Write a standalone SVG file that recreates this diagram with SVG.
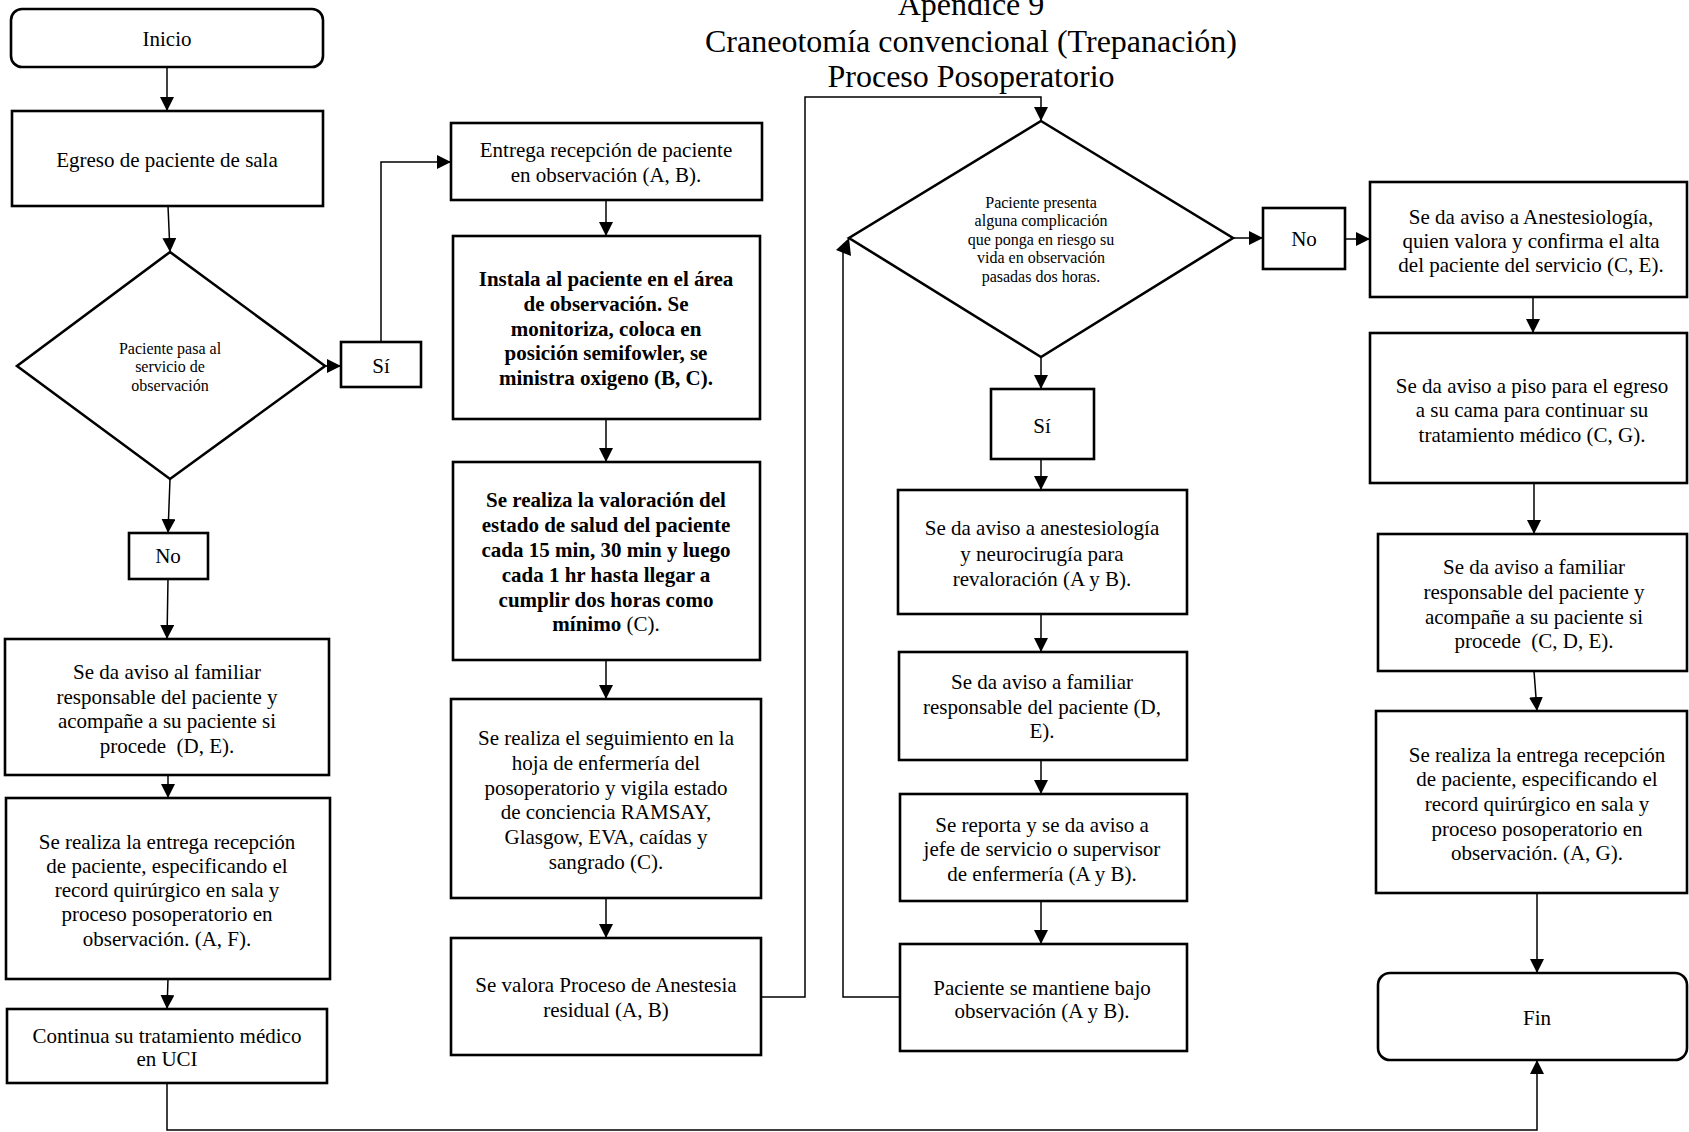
<svg xmlns="http://www.w3.org/2000/svg" width="1689" height="1132" viewBox="0 0 1689 1132">
<style>
.box{fill:#fff;stroke:#000;stroke-width:2.6}
.dec{fill:#fff;stroke:#000;stroke-width:2.6}
.t{font-family:"Liberation Serif","Times New Roman",serif;font-size:21px;fill:#000;text-anchor:middle}
.b{font-weight:bold}
.s{font-size:16px}
.title{font-family:"Liberation Serif","Times New Roman",serif;font-size:32px;fill:#000;text-anchor:middle}
.c{fill:none;stroke:#000;stroke-width:1.5}
</style>
<defs>
<marker id="ah" markerUnits="userSpaceOnUse" markerWidth="15" markerHeight="14" refX="14" refY="7" orient="auto">
<path d="M0,0 L14,7 L0,14 z" fill="#000"/>
</marker>
</defs>
<rect width="1689" height="1132" fill="#fff"/>
<g id="title">
<text class="title" x="971" y="15">Apéndice 9</text>
<text class="title" x="971" y="52">Craneotomía convencional (Trepanación)</text>
<text class="title" x="971" y="87">Proceso Posoperatorio</text>
</g>
<g id="connectors">
<path class="c" d="M167,67 V111" marker-end="url(#ah)"/>
<path class="c" d="M168,206 L170,252" marker-end="url(#ah)"/>
<path class="c" d="M170,479 L168,533" marker-end="url(#ah)"/>
<path class="c" d="M168,579 L167,639" marker-end="url(#ah)"/>
<path class="c" d="M168,775 V798" marker-end="url(#ah)"/>
<path class="c" d="M168,979 L167,1009" marker-end="url(#ah)"/>
<path class="c" d="M325,366 H341" marker-end="url(#ah)"/>
<path class="c" d="M381,342 V162 H451" marker-end="url(#ah)"/>
<path class="c" d="M167,1083 V1130 H1537 V1060" marker-end="url(#ah)"/>
<path class="c" d="M606,200 V236" marker-end="url(#ah)"/>
<path class="c" d="M606,419 V462" marker-end="url(#ah)"/>
<path class="c" d="M606,660 V699" marker-end="url(#ah)"/>
<path class="c" d="M606,898 V938" marker-end="url(#ah)"/>
<path class="c" d="M761,997 H805 V97 H1041 V121" marker-end="url(#ah)"/>
<path class="c" d="M1041,357 V389" marker-end="url(#ah)"/>
<path class="c" d="M1041,459 V490" marker-end="url(#ah)"/>
<path class="c" d="M1041,614 V652" marker-end="url(#ah)"/>
<path class="c" d="M1041,760 V794" marker-end="url(#ah)"/>
<path class="c" d="M1041,901 V944" marker-end="url(#ah)"/>
<path class="c" d="M900,997 H843 V252"/>
<polygon points="849,238 836,250 851,256" fill="#000"/>
<path class="c" d="M1233,238 H1263" marker-end="url(#ah)"/>
<path class="c" d="M1345,239 H1370" marker-end="url(#ah)"/>
<path class="c" d="M1533,297 V333" marker-end="url(#ah)"/>
<path class="c" d="M1534,483 V534" marker-end="url(#ah)"/>
<path class="c" d="M1534,671 L1537,711" marker-end="url(#ah)"/>
<path class="c" d="M1537,893 V973" marker-end="url(#ah)"/>
</g>
<g id="inicio">
<rect class="box" x="11" y="9" width="312" height="58" rx="11"/>
<text class="t" x="167" y="46">Inicio</text>
</g>
<g id="egreso">
<rect class="box" x="12" y="111" width="311" height="95"/>
<text class="t" x="167" y="167">Egreso de paciente de sala</text>
</g>
<g id="decision1">
<polygon class="dec" points="170,252 325,366 170,479 17,366"/>
<text class="t s" x="170" y="354">Paciente pasa al</text>
<text class="t s" x="170" y="372">servicio de</text>
<text class="t s" x="170" y="391">observación</text>
</g>
<g id="si1">
<rect class="box" x="341" y="342" width="80" height="45"/>
<text class="t" x="381" y="373">Sí</text>
</g>
<g id="no1">
<rect class="box" x="129" y="533" width="79" height="46"/>
<text class="t" x="168" y="563">No</text>
</g>
<g id="familiar1">
<rect class="box" x="5" y="639" width="324" height="136"/>
<text class="t" x="167" y="679">Se da aviso al familiar</text>
<text class="t" x="167" y="704">responsable del paciente y</text>
<text class="t" x="167" y="728">acompañe a su paciente si</text>
<text class="t" x="167" y="753" xml:space="preserve">procede  (D, E).</text>
</g>
<g id="entregaAF">
<rect class="box" x="6" y="798" width="324" height="181"/>
<text class="t" x="167" y="849">Se realiza la entrega recepción</text>
<text class="t" x="167" y="873">de paciente, especificando el</text>
<text class="t" x="167" y="897">record quirúrgico en sala y</text>
<text class="t" x="167" y="921">proceso posoperatorio en</text>
<text class="t" x="167" y="946">observación. (A, F).</text>
</g>
<g id="uci">
<rect class="box" x="7" y="1009" width="320" height="74"/>
<text class="t" x="167" y="1043">Continua su tratamiento médico</text>
<text class="t" x="167" y="1066">en UCI</text>
</g>
<g id="entregaAB">
<rect class="box" x="451" y="123" width="311" height="77"/>
<text class="t" x="606" y="157">Entrega recepción de paciente</text>
<text class="t" x="606" y="182">en observación (A, B).</text>
</g>
<g id="instala">
<rect class="box" x="453" y="236" width="307" height="183"/>
<text class="t b" x="606" y="286">Instala al paciente en el área</text>
<text class="t b" x="606" y="311">de observación. Se</text>
<text class="t b" x="606" y="336">monitoriza, coloca en</text>
<text class="t b" x="606" y="360">posición semifowler, se</text>
<text class="t b" x="606" y="385">ministra oxigeno (B, C).</text>
</g>
<g id="valoracion">
<rect class="box" x="453" y="462" width="307" height="198"/>
<text class="t b" x="606" y="507">Se realiza la valoración del</text>
<text class="t b" x="606" y="532">estado de salud del paciente</text>
<text class="t b" x="606" y="557">cada 15 min, 30 min y luego</text>
<text class="t b" x="606" y="582">cada 1 hr hasta llegar a</text>
<text class="t b" x="606" y="607">cumplir dos horas como</text>
<text class="t" x="606" y="631"><tspan font-weight="bold">mínimo</tspan> (C).</text>
</g>
<g id="seguimiento">
<rect class="box" x="451" y="699" width="310" height="199"/>
<text class="t" x="606" y="745">Se realiza el seguimiento en la</text>
<text class="t" x="606" y="770">hoja de enfermería del</text>
<text class="t" x="606" y="795">posoperatorio y vigila estado</text>
<text class="t" x="606" y="819">de conciencia RAMSAY,</text>
<text class="t" x="606" y="844">Glasgow, EVA, caídas y</text>
<text class="t" x="606" y="869">sangrado (C).</text>
</g>
<g id="anestesia">
<rect class="box" x="451" y="938" width="310" height="117"/>
<text class="t" x="606" y="992">Se valora Proceso de Anestesia</text>
<text class="t" x="606" y="1017">residual (A, B)</text>
</g>
<g id="decision2">
<polygon class="dec" points="1041,121 1233,238 1041,357 849,238"/>
<text class="t s" x="1041" y="208">Paciente presenta</text>
<text class="t s" x="1041" y="226">alguna complicación</text>
<text class="t s" x="1041" y="245">que ponga en riesgo su</text>
<text class="t s" x="1041" y="263">vida en observación</text>
<text class="t s" x="1041" y="282">pasadas dos horas.</text>
</g>
<g id="si2">
<rect class="box" x="991" y="389" width="103" height="70"/>
<text class="t" x="1042" y="433">Sí</text>
</g>
<g id="no2">
<rect class="box" x="1263" y="208" width="82" height="61"/>
<text class="t" x="1304" y="246">No</text>
</g>
<g id="aviso_anest_neuro">
<rect class="box" x="898" y="490" width="289" height="124"/>
<text class="t" x="1042" y="535">Se da aviso a anestesiología</text>
<text class="t" x="1042" y="561">y neurocirugía para</text>
<text class="t" x="1042" y="586">revaloración (A y B).</text>
</g>
<g id="familiar2">
<rect class="box" x="899" y="652" width="288" height="108"/>
<text class="t" x="1042" y="689">Se da aviso a familiar</text>
<text class="t" x="1042" y="714">responsable del paciente (D,</text>
<text class="t" x="1042" y="738">E).</text>
</g>
<g id="reporta">
<rect class="box" x="900" y="794" width="287" height="107"/>
<text class="t" x="1042" y="832">Se reporta y se da aviso a</text>
<text class="t" x="1042" y="856">jefe de servicio o supervisor</text>
<text class="t" x="1042" y="881">de enfermería (A y B).</text>
</g>
<g id="mantiene">
<rect class="box" x="900" y="944" width="287" height="107"/>
<text class="t" x="1042" y="995">Paciente se mantiene bajo</text>
<text class="t" x="1042" y="1018">observación (A y B).</text>
</g>
<g id="alta">
<rect class="box" x="1370" y="182" width="317" height="115"/>
<text class="t" x="1531" y="224">Se da aviso a Anestesiología,</text>
<text class="t" x="1531" y="248">quien valora y confirma el alta</text>
<text class="t" x="1531" y="272">del paciente del servicio (C, E).</text>
</g>
<g id="piso">
<rect class="box" x="1370" y="333" width="317" height="150"/>
<text class="t" x="1532" y="393">Se da aviso a piso para el egreso</text>
<text class="t" x="1532" y="417">a su cama para continuar su</text>
<text class="t" x="1532" y="442">tratamiento médico (C, G).</text>
</g>
<g id="familiar3">
<rect class="box" x="1378" y="534" width="309" height="137"/>
<text class="t" x="1534" y="574">Se da aviso a familiar</text>
<text class="t" x="1534" y="599">responsable del paciente y</text>
<text class="t" x="1534" y="624">acompañe a su paciente si</text>
<text class="t" x="1534" y="648" xml:space="preserve">procede  (C, D, E).</text>
</g>
<g id="entregaAG">
<rect class="box" x="1376" y="711" width="311" height="182"/>
<text class="t" x="1537" y="762">Se realiza la entrega recepción</text>
<text class="t" x="1537" y="786">de paciente, especificando el</text>
<text class="t" x="1537" y="811">record quirúrgico en sala y</text>
<text class="t" x="1537" y="836">proceso posoperatorio en</text>
<text class="t" x="1537" y="860">observación. (A, G).</text>
</g>
<g id="fin">
<rect class="box" x="1378" y="973" width="309" height="87" rx="12"/>
<text class="t" x="1537" y="1025">Fin</text>
</g>
</svg>
